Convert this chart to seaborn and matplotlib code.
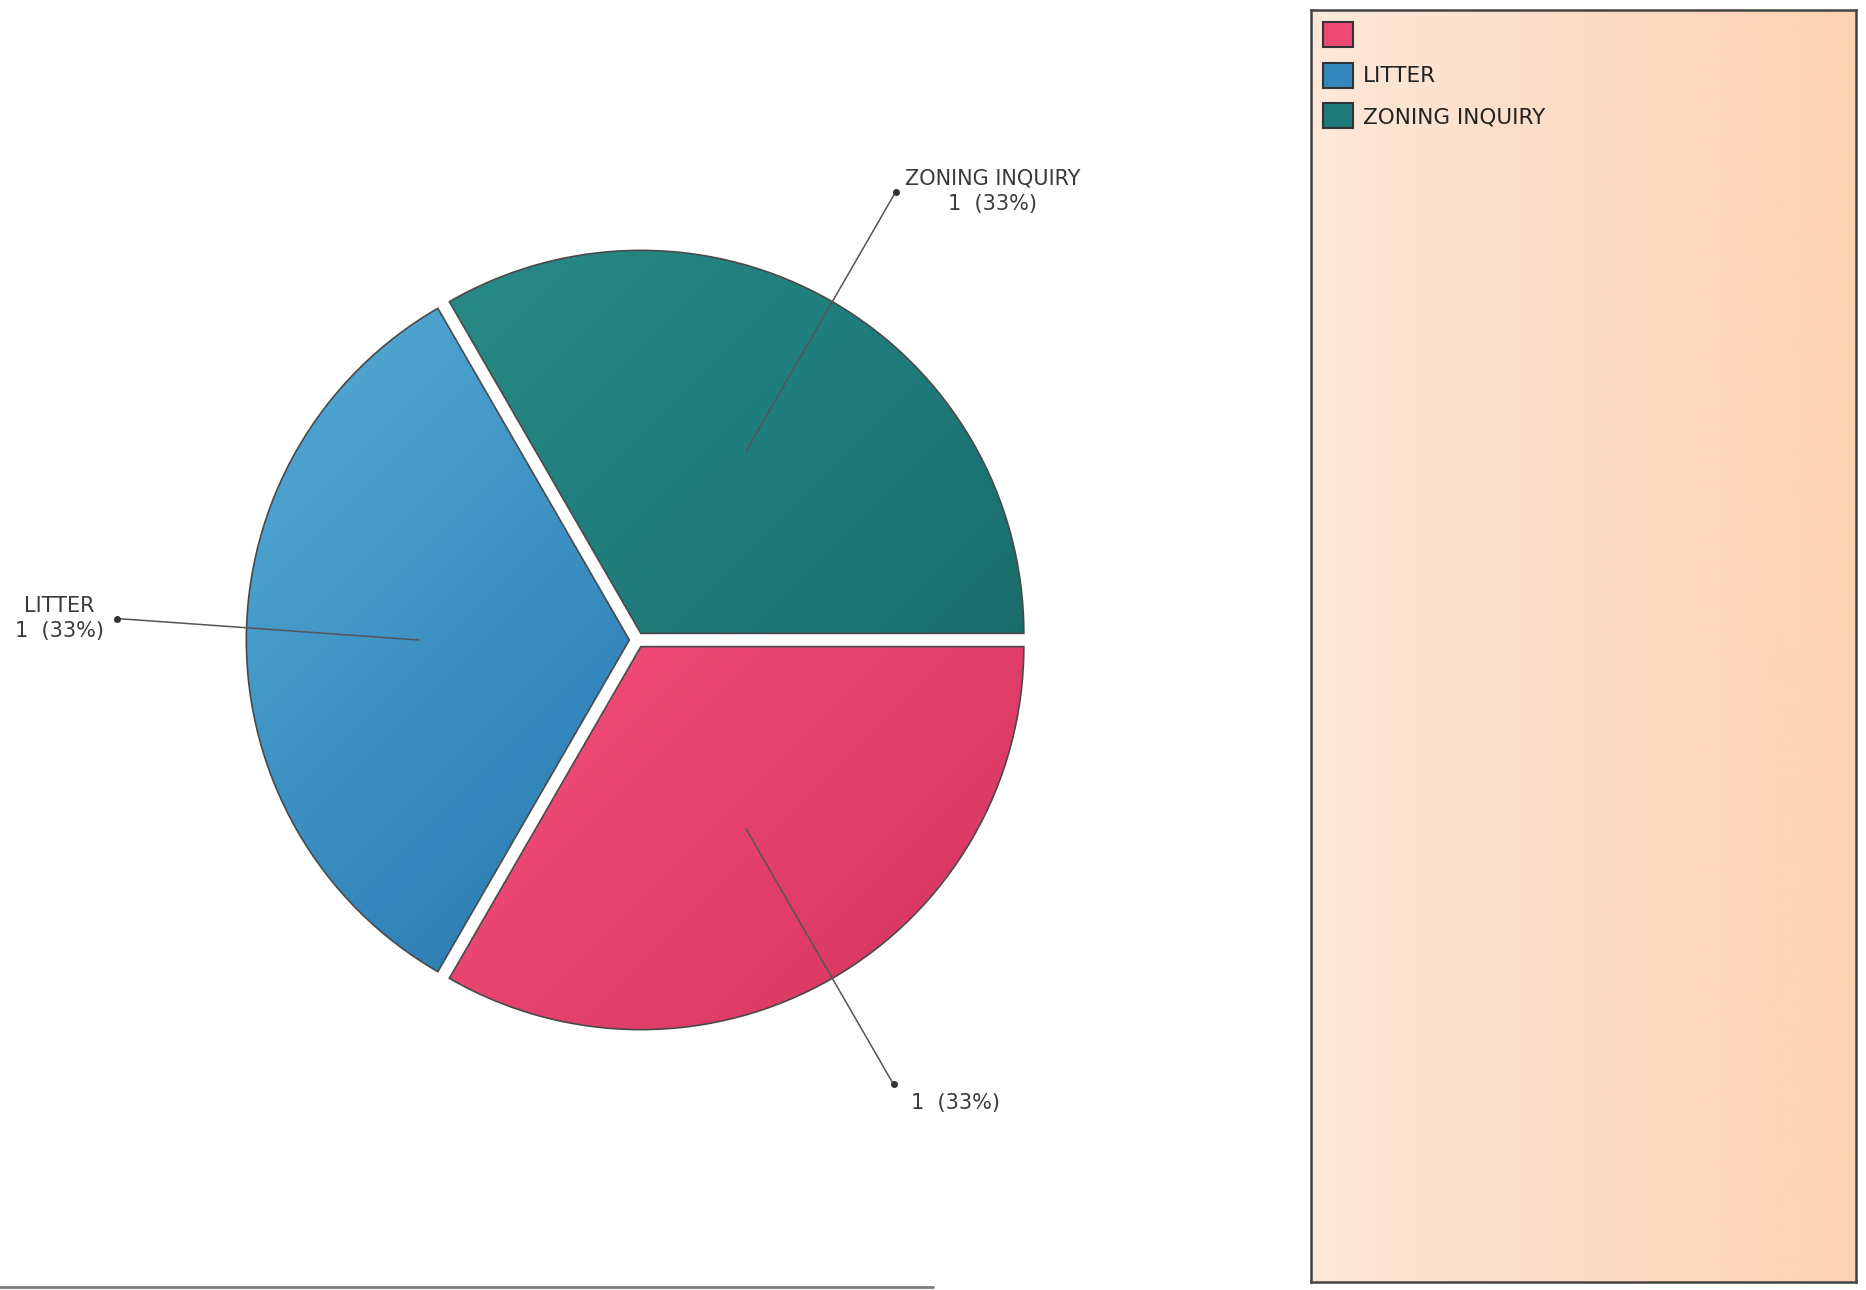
import numpy as np
import matplotlib
matplotlib.use("Agg")
import matplotlib.pyplot as plt
import matplotlib.colors as mcolors
from matplotlib.patches import Rectangle
from matplotlib.lines import Line2D
import seaborn as sns

# ---- data ----
categories = ["", "LITTER", "ZONING INQUIRY"]
counts = [1, 1, 1]

# ---- style ----
base_colors = ["#EE4A74", "#3488BD", "#1E7B79"]
light_colors = ["#FF6C96", "#58AED8", "#2A8E8B"]
dark_colors = ["#D4325F", "#22608F", "#155E5C"]

sns.set_theme(style="white")
plt.rcParams['font.family'] = ['DejaVu Sans']

W, H = 1866, 1290
fig = plt.figure(figsize=(W / 100, H / 100), dpi=100)
fig.patch.set_facecolor("white")

R_PX = 383
CX, CY = 637, 650  # pie centre in pixels from bottom-left
ax = fig.add_axes([0, 0, 1, 1])
wedges, _ = ax.pie(counts, colors=base_colors, startangle=0, counterclock=False,
                   explode=[0.02] * len(counts), radius=1,
                   wedgeprops=dict(edgecolor="#4a4a4a", linewidth=1.2))

# gradient fill clipped to each wedge
yy, xx = np.mgrid[-1:1:200j, -1:1:200j]
grad = (xx - yy + 2) / 4.0
for w, lc, bc, dc in zip(wedges, light_colors, base_colors, dark_colors):
    cx, cy = w.center
    cmap = mcolors.LinearSegmentedColormap.from_list("g", [lc, bc, dc])
    im = ax.imshow(grad, extent=(cx - 1, cx + 1, cy - 1, cy + 1), origin="lower",
                   cmap=cmap, aspect="auto", zorder=1, interpolation="bilinear")
    im.set_clip_path(w)
    w.set_facecolor("none")
    w.set_zorder(2)

total = sum(counts)
label_style = {
    "right_up": dict(ha="left", va="center", dx=9, dy=1, nudge=0.0, reach=1.33),
    "left": dict(ha="right", va="center", dx=-13, dy=0, nudge=-2.4, reach=1.34),
    "right_down": dict(ha="left", va="center", dx=17, dy=-19, nudge=0.0, reach=1.32),
}
for w, cat, c in zip(wedges, categories, counts):
    mid = (w.theta1 + w.theta2) / 2
    th = np.deg2rad(mid)
    if np.cos(th) < 0:
        st = label_style["left"]
    elif np.sin(th) > 0:
        st = label_style["right_up"]
    else:
        st = label_style["right_down"]
    cx, cy = w.center
    tho = np.deg2rad(mid + st["nudge"])
    inner = (cx + 0.55 * np.cos(th), cy + 0.55 * np.sin(th))
    outer = (cx + st["reach"] * np.cos(tho), cy + st["reach"] * np.sin(tho))
    ax.plot([inner[0], outer[0]], [inner[1], outer[1]], color="#555555", lw=1.1, zorder=3)
    ax.plot([outer[0]], [outer[1]], "o", color="#333333", ms=4, zorder=3)
    pct = 100 * c / total
    txt = f"{c}  ({pct:.0f}%)"
    if cat:
        txt = f"{cat}\n{txt}"
    ax.annotate(txt, xy=outer, xytext=(st["dx"] * 0.72, st["dy"] * 0.72),
                textcoords="offset points", ha=st["ha"], va=st["va"],
                multialignment="center", fontsize=15, color="#3a3a3a",
                linespacing=1.3, zorder=4)

ax.set_xlim(-CX / R_PX, (W - CX) / R_PX)
ax.set_ylim(-CY / R_PX, (H - CY) / R_PX)
ax.set_aspect("auto")
ax.axis("off")

# bottom rule
fig.add_artist(Line2D([0, 0.5], [3.5 / H, 3.5 / H], transform=fig.transFigure,
                      color="#7a7a7a", lw=2))

# ---- legend panel ----
lax = fig.add_axes([1311 / W, 8 / H, 545 / W, 1272 / H])
bg = np.linspace(0, 1, 256).reshape(1, -1)
bg_cmap = mcolors.LinearSegmentedColormap.from_list("bg", ["#FDE8DA", "#FCDCC4", "#FCD2B3"])
lax.imshow(bg, extent=(0, 1, 0, 1), aspect="auto", cmap=bg_cmap, zorder=0)
lax.set_xlim(0, 1)
lax.set_ylim(0, 1)
lax.set_xticks([])
lax.set_yticks([])
for s in lax.spines.values():
    s.set_visible(True)
    s.set_color("#444444")
    s.set_linewidth(1.8)

handles = [Rectangle((0, 0), 1, 1, facecolor=bc, edgecolor="#333333", linewidth=1.5)
           for bc in base_colors]
lax.legend(handles, categories, loc="upper left", bbox_to_anchor=(0, 1),
           frameon=False, fontsize=15.5, handlelength=1.4, handleheight=1.4,
           handletextpad=0.45, labelspacing=0.74, borderaxespad=0.25, borderpad=0.3,
           labelcolor="#222222")

fig.savefig("out.png", dpi=100, facecolor="white")
